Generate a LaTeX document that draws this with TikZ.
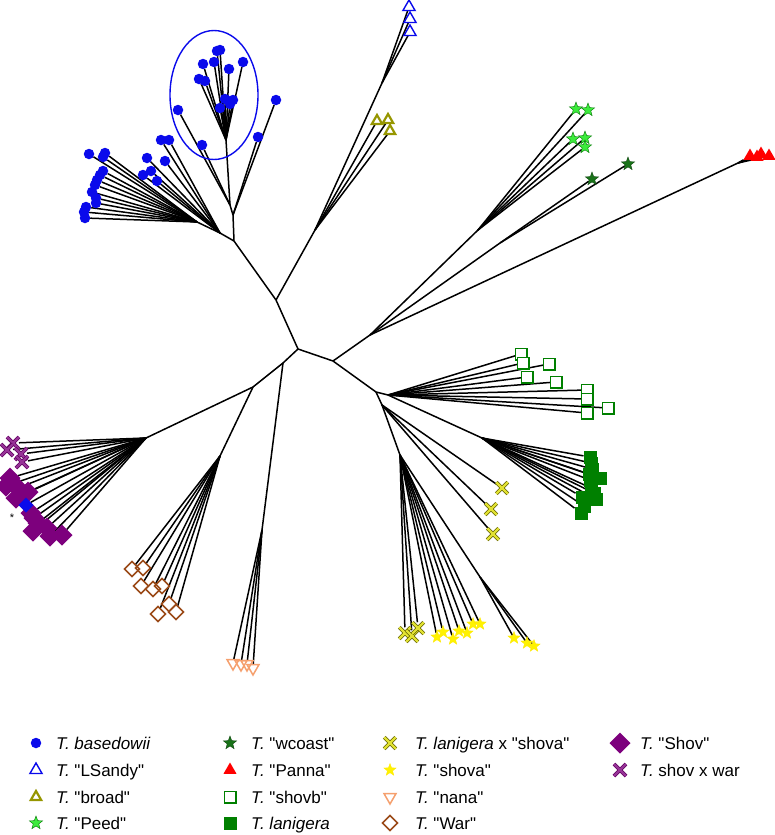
\documentclass[tikz,border=0pt]{standalone}
\usepackage{fontspec}
\setmainfont{Liberation Sans}
\usetikzlibrary{shapes.geometric,shapes.misc}
\pgfdeclarelayer{bg}
\pgfsetlayers{bg,main}
\definecolor{bblue}{RGB}{10,10,235}
\definecolor{olivec}{RGB}{150,150,0}
\definecolor{lgreen}{RGB}{60,235,60}
\definecolor{dgreen}{RGB}{25,115,25}
\definecolor{mgreen}{RGB}{0,128,0}
\definecolor{purp}{RGB}{125,0,125}
\definecolor{warc}{RGB}{155,75,25}
\definecolor{nanac}{RGB}{245,160,110}
\definecolor{hybc}{RGB}{225,225,50}
\definecolor{hybd}{RGB}{95,95,0}
\newcommand\qt[1]{\textquotedbl#1\textquotedbl}
\newcommand\mytips[3]{%
  \foreach \xx/\yy [count=\ii] in {#3} {%
    \node[#2] (#1-#2-\ii) at (\xx,\yy) {};
    \begin{pgfonlayer}{bg}\draw[br] (#1) -- (#1-#2-\ii);\end{pgfonlayer}
  }}
\begin{document}
\begin{tikzpicture}[x=1pt,y=-1pt,
  br/.style={line width=1.5pt,black,line join=round},
  mk/.style={inner sep=0pt,outer sep=0pt},
  bas/.style={mk,circle,fill=bblue,minimum size=10.5pt},
  bdia/.style={mk,diamond,fill=bblue,minimum size=15pt},
  lsandy/.style={mk,regular polygon,regular polygon sides=3,draw=bblue,line width=1.4pt,minimum size=14pt},
  broad/.style={mk,regular polygon,regular polygon sides=3,draw=olivec,line width=2.2pt,minimum size=12pt},
  peed/.style={mk,star,star points=5,star point ratio=2.4,fill=lgreen,draw=green!45!black,line width=0.4pt,minimum size=14pt},
  wcoast/.style={mk,star,star points=5,star point ratio=2.4,fill=dgreen,draw=dgreen!60!black,line width=0.4pt,minimum size=14pt},
  panna/.style={mk,regular polygon,regular polygon sides=3,fill=red,minimum size=15pt},
  shovb/.style={mk,rectangle,draw=mgreen,line width=1.5pt,fill=white,minimum size=11.5pt},
  lanig/.style={mk,rectangle,fill=mgreen,minimum size=13pt},
  hyb/.style={mk,cross out,draw=hybd,line width=0.7pt,double=hybc,double distance=2.2pt,minimum size=11.5pt},
  shova/.style={mk,star,star points=5,star point ratio=2.4,fill=yellow,draw=yellow!90!orange,line width=0.3pt,minimum size=13pt},
  nana/.style={mk,regular polygon,regular polygon sides=3,shape border rotate=180,draw=nanac,line width=1.5pt,minimum size=14pt},
  war/.style={mk,diamond,draw=warc,line width=1.5pt,minimum size=15pt},
  shov/.style={mk,diamond,fill=purp,minimum size=21pt},
  sxw/.style={mk,cross out,draw=purp!75!black,line width=0.8pt,double=purp!80,double distance=2.2pt,minimum size=12pt},
  lab/.style={anchor=base west,inner sep=0pt,font=\fontsize{17}{20}\selectfont}
]
\useasboundingbox (0,0) rectangle (775,835);
% internal nodes
\coordinate (A) at (298,349);
\coordinate (B) at (333,361);
\coordinate (C) at (276,300);
\coordinate (D) at (234,241);
\coordinate (R1) at (233,215);
\coordinate (R2) at (230,205);
\coordinate (R3) at (226,140);
\coordinate (P) at (220,233);
\coordinate (Q) at (197,222);
\coordinate (E) at (315,230);
\coordinate (LS) at (382,83);
\coordinate (F) at (370,335);
\coordinate (H) at (478,230);
\coordinate (W) at (500,243);
\coordinate (PJ) at (738,163);
\coordinate (L) at (376,392);
\coordinate (S) at (388,395);
\coordinate (T) at (482,438);
\coordinate (N) at (382,405);
\coordinate (O) at (400,455);
\coordinate (U) at (480,577);
\coordinate (I) at (283,363);
\coordinate (I2) at (253,387);
\coordinate (J) at (146,438);
\coordinate (K) at (220,456);
\coordinate (NJ) at (262,530);
\begin{pgfonlayer}{bg}
\draw[br] (A) -- (C) -- (D) -- (R1) -- (R2) -- (R3);
\draw[br] (D) -- (P) -- (Q);
\draw[br] (C) -- (E) -- (LS);
\draw[br] (A) -- (B) -- (F) -- (H);
\draw[br] (F) -- (W);
\draw[br] (F) -- (PJ);
\draw[br] (B) -- (L) -- (S) -- (T);
\draw[br] (L) -- (N) -- (O) -- (U);
\draw[br] (A) -- (I) -- (I2) -- (J);
\draw[br] (I) -- (NJ);
\draw[br] (I2) -- (K);
\end{pgfonlayer}
% basedowii
\mytips{R3}{bas}{217/51,220/50,203/64,214/62,243/62,229/69,199/79,205/81,225/99,233/100,230/104,220/108}
\mytips{R2}{bas}{202/145,178/110}
\mytips{R1}{bas}{258/137,276/100}
\mytips{P}{bas}{147/158,165/161,161/140,169/140,143/175,151/171,157/181}
\mytips{Q}{bas}{89/154,103/157,105/153,103/171,100/175,97/180,95/185,92/192,96/198,96/203,86/207,84/212,85/218}
\node[draw=bblue,line width=1.4pt,ellipse,minimum width=88pt,minimum height=129pt] (circ) at (214,95) {};
% LSandy and broad
\mytips{LS}{lsandy}{409/7,410/19,410/32}
\mytips{E}{broad}{377/121,388/120,390/131}
% Peed, wcoast, Panna
\mytips{H}{peed}{576/109,588/110,573/139,585/138,585/147}
\mytips{W}{wcoast}{592/179,628/164}
\mytips{PJ}{panna}{750/156,757/157,761/154,769/156}
% shovb, lanigera
\mytips{S}{shovb}{521/354,523/363,549/364,527/377,556/382,587/390,587/399,608/408,587/413}
\mytips{T}{lanig}{590/457,591/463,592/469,589/474,600/478,590/480,591/488,594/493,596/499,582/497,584/506,581/513}
% hybrids and shova
\mytips{N}{hyb}{502/488,491/509,493/534}
\mytips{O}{hyb}{405/633,412/636,418/628}
\mytips{O}{shova}{437/637,443/632,453/639,459/631,467/633,473/624,480/624}
\mytips{U}{shova}{514/638,527/643,534/646}
% Shov clade
\mytips{J}{sxw}{13/443,7/450,21/454,22/462}
\mytips{J}{shov}{10/478,6/486,18/488,28/492,16/498,31/513,34/518,38/523,33/531,47/528,50/536,62/535}
\mytips{J}{bdia}{26/505}
\node[inner sep=0pt,font=\fontsize{11}{11}\selectfont] (ast) at (12,518) {*};
% War and nana
\mytips{K}{war}{132/569,143/568,141/586,153/589,162/586,169/604,176/612,158/614}
\mytips{NJ}{nana}{233/663,241/664,247/664,253/668}
% legend
\node[bas] (l1) at (36,743) {};
\node[lab] (t1) at (56,749) {\textit{T. basedowii}};
\node[lsandy] (l2) at (36,770) {};
\node[lab] (t2) at (56,776) {\textit{T.} \qt{LSandy}};
\node[broad] (l3) at (36,797) {};
\node[lab] (t3) at (56,803) {\textit{T.} \qt{broad}};
\node[peed] (l4) at (36,823) {};
\node[lab] (t4) at (56,829) {\textit{T.} \qt{Peed}};
\node[wcoast] (l5) at (230,743) {};
\node[lab] (t5) at (251,749) {\textit{T.} \qt{wcoast}};
\node[panna] (l6) at (230,770) {};
\node[lab] (t6) at (251,776) {\textit{T.} \qt{Panna}};
\node[shovb] (l7) at (230,797) {};
\node[lab] (t7) at (251,803) {\textit{T.} \qt{shovb}};
\node[lanig] (l8) at (230,823) {};
\node[lab] (t8) at (251,829) {\textit{T. lanigera}};
\node[hyb] (l9) at (390,743) {};
\node[lab] (t9) at (415,749) {\textit{T. lanigera} x \qt{shova}};
\node[shova] (l10) at (390,770) {};
\node[lab] (t10) at (415,776) {\textit{T.} \qt{shova}};
\node[nana] (l11) at (390,797) {};
\node[lab] (t11) at (415,803) {\textit{T.} \qt{nana}};
\node[war] (l12) at (390,823) {};
\node[lab] (t12) at (415,829) {\textit{T.} \qt{War}};
\node[shov] (l13) at (620,743) {};
\node[lab] (t13) at (640,749) {\textit{T.} \qt{Shov}};
\node[sxw] (l14) at (620,770) {};
\node[lab] (t14) at (640,776) {\textit{T.} shov x war};
\end{tikzpicture}
\end{document}
